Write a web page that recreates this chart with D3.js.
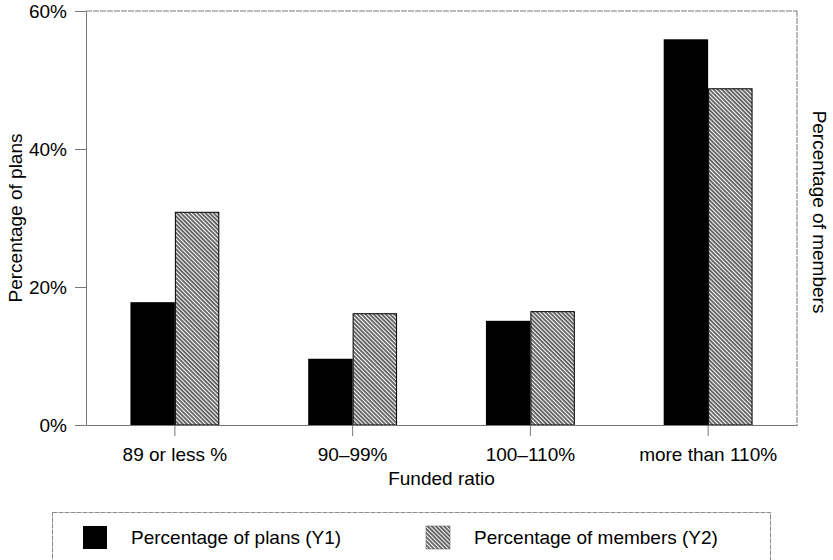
<!DOCTYPE html>
<html>
<head>
<meta charset="utf-8">
<script src="https://cdn.jsdelivr.net/npm/d3@7"></script>
<style>
	body { margin: 0; background: #fff; }
	text { font-family: "Liberation Sans", Arial, sans-serif; fill: #000; }
</style>
</head>
<body>
<script>
//wrap everything in a self-executing function
(function(){

	//chart data
	var categories = ["89 or less %", "90\u201399%", "100\u2013110%", "more than 110%"];
	var plans = [17.8, 9.6, 15.1, 55.9];
	var members = [30.9, 16.2, 16.5, 48.8];
	var yTicks = [0, 20, 40, 60];
	var seriesNames = ["Percentage of plans (Y1)", "Percentage of members (Y2)"];

	var width = 833,
		height = 560;

	//plot frame
	var left = 86, right = 797, top = 11, bottom = 425;

	window.onload = setChart();

	function setChart(){

		var svg = d3.select("body")
			.append("svg")
			.attr("width", width)
			.attr("height", height);

		//hatch pattern for the members series
		var pattern = svg.append("defs")
			.append("pattern")
			.attr("id", "hatch")
			.attr("patternUnits", "userSpaceOnUse")
			.attr("width", 2.9)
			.attr("height", 2.9)
			.attr("patternTransform", "rotate(-45)");
		pattern.append("rect")
			.attr("width", 2.9)
			.attr("height", 2.9)
			.attr("fill", "#fff");
		pattern.append("line")
			.attr("x1", 1).attr("y1", 0)
			.attr("x2", 1).attr("y2", 2.9)
			.attr("stroke", "#000")
			.attr("stroke-width", 1.15);

		var x = d3.scaleBand()
			.domain(categories)
			.range([left, right])
			.paddingInner(0.5)
			.paddingOuter(0.25);

		var sub = d3.scaleBand()
			.domain(["plans", "members"])
			.range([0, x.bandwidth()]);

		var y = d3.scaleLinear()
			.domain([0, 60])
			.range([bottom, top]);

		//frame lines on top and right
		svg.append("line")
			.attr("x1", left).attr("x2", right)
			.attr("y1", top).attr("y2", top)
			.attr("stroke", "#777")
			.attr("stroke-dasharray", "6,1");
		svg.append("line")
			.attr("x1", right).attr("x2", right)
			.attr("y1", top).attr("y2", bottom)
			.attr("stroke", "#777")
			.attr("stroke-dasharray", "6,1");

		//bars
		var groups = svg.selectAll(".group")
			.data(categories)
			.enter()
			.append("g")
			.attr("class", "group")
			.attr("transform", function(d){ return "translate(" + x(d) + ",0)"; });

		groups.append("rect")
			.attr("x", sub("plans"))
			.attr("y", function(d, i){ return y(plans[i]); })
			.attr("width", sub.bandwidth())
			.attr("height", function(d, i){ return bottom - y(plans[i]); })
			.attr("fill", "#000");

		groups.append("rect")
			.attr("x", sub("members") + 0.5)
			.attr("y", function(d, i){ return y(members[i]) + 0.5; })
			.attr("width", sub.bandwidth() - 1)
			.attr("height", function(d, i){ return bottom - y(members[i]) - 0.5; })
			.attr("fill", "url(#hatch)")
			.attr("stroke", "#000")
			.attr("stroke-width", 1);

		//left axis
		var yAxis = svg.append("g")
			.attr("transform", "translate(" + left + ",0)")
			.call(d3.axisLeft(y).tickValues(yTicks).tickSizeInner(11).tickSizeOuter(0).tickPadding(8)
				.tickFormat(function(d){ return d + "%"; }));
		yAxis.select(".domain").attr("stroke", "#777");
		yAxis.selectAll(".tick line").attr("stroke", "#777");
		yAxis.selectAll("text")
			.attr("font-size", "19px")
			.attr("font-family", "Liberation Sans, Arial, sans-serif");

		//bottom axis
		var xAxis = svg.append("g")
			.attr("transform", "translate(0," + bottom + ")")
			.call(d3.axisBottom(x).tickSizeInner(11).tickSizeOuter(0).tickPadding(12));
		xAxis.select(".domain").attr("stroke", "#777");
		xAxis.selectAll(".tick line").attr("stroke", "#777");
		xAxis.selectAll("text")
			.attr("font-size", "19px")
			.attr("font-family", "Liberation Sans, Arial, sans-serif");

		//axis titles
		svg.append("text")
			.attr("transform", "translate(22," + ((top + bottom) / 2) + ") rotate(-90)")
			.attr("text-anchor", "middle")
			.attr("font-size", "19px")
			.text("Percentage of plans");

		svg.append("text")
			.attr("transform", "translate(813," + 212 + ") rotate(90)")
			.attr("text-anchor", "middle")
			.attr("font-size", "19px")
			.text("Percentage of members");

		svg.append("text")
			.attr("x", (left + right) / 2)
			.attr("y", 485)
			.attr("text-anchor", "middle")
			.attr("font-size", "19px")
			.text("Funded ratio");

		setLegend(svg);
	};

	//legend box at the bottom
	function setLegend(svg){

		svg.append("rect")
			.attr("x", 52.5)
			.attr("y", 512.5)
			.attr("width", 718)
			.attr("height", 70)
			.attr("fill", "none")
			.attr("stroke", "#888")
			.attr("stroke-dasharray", "5,1");

		var items = [
			{x: 83, fill: "#000", stroke: "none"},
			{x: 426, fill: "url(#hatch)", stroke: "#555"}
		];

		var legend = svg.selectAll(".legend")
			.data(seriesNames)
			.enter()
			.append("g")
			.attr("class", "legend")
			.attr("transform", function(d, i){ return "translate(" + items[i].x + ",526)"; });

		legend.append("rect")
			.attr("width", 24)
			.attr("height", 23)
			.attr("fill", function(d, i){ return items[i].fill; })
			.attr("stroke", function(d, i){ return items[i].stroke; })
			.attr("stroke-width", 0.5);

		legend.append("text")
			.attr("x", 48)
			.attr("y", 18)
			.attr("font-size", "19px")
			.text(function(d){ return d; });
	};

})();
</script>
</body>
</html>
